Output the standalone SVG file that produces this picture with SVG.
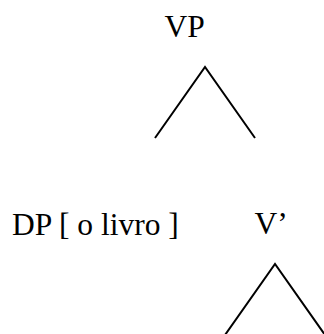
<svg xmlns="http://www.w3.org/2000/svg" width="324" height="334" viewBox="0 0 324 334">
<style>
.lbl{font-family:"Liberation Serif","Times New Roman",serif;font-size:31.5px;fill:#000}
.edge{fill:none;stroke:#000;stroke-width:2;stroke-linejoin:miter}
</style>
<rect width="324" height="334" fill="#fff"/>
<g id="vp"><text class="lbl" x="164.5" y="37">VP</text></g>
<g id="dp"><text class="lbl" x="12" y="234.5">DP [ o livro ]</text></g>
<g id="vbar"><text class="lbl" x="254.5" y="234">V’</text></g>
<g id="connectors">
<polyline class="edge" points="155,138 205,67 255,138"/>
<polyline class="edge" points="225,335 275,264 325,335"/>
</g>
</svg>
